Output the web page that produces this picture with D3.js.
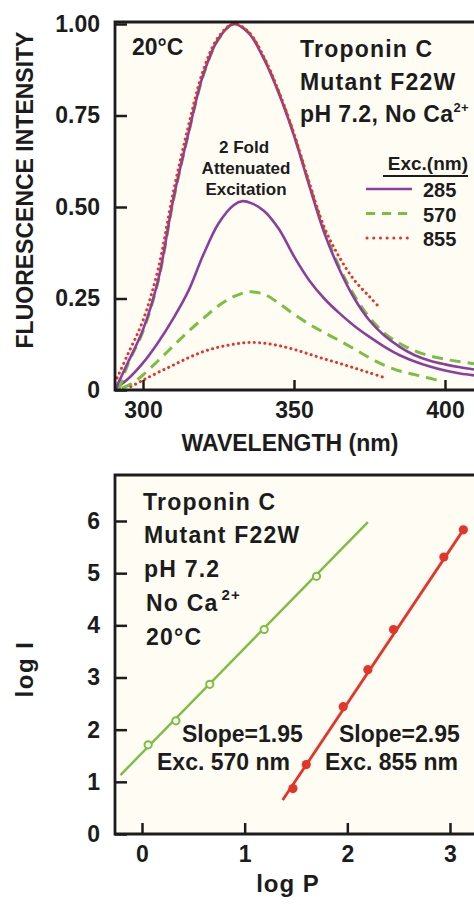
<!DOCTYPE html>
<html>
<head>
<meta charset="utf-8">
<script src="https://cdn.jsdelivr.net/npm/d3@7"></script>
<style>
  html, body { margin: 0; padding: 0; background: #ffffff; }
  svg { display: block; }
  text { font-family: "Liberation Sans", Arial, sans-serif; font-weight: bold; fill: #1c1c1c; }
</style>
</head>
<body>
<svg id="chart" width="474" height="905"></svg>
<script>
// ---------- Top panel data: emission spectra ----------
const wlPurpleNorm = [290.7, 295, 300, 305, 310, 315, 320, 325, 330, 335, 340, 345, 350, 355, 360, 365, 370, 375, 380, 385, 390, 395, 400, 405, 409.6];
const fiPurpleNorm = [0.0, 0.075, 0.165, 0.30, 0.52, 0.70, 0.863, 0.96, 1.0, 0.975, 0.905, 0.81, 0.695, 0.56, 0.43, 0.33, 0.25, 0.19, 0.148, 0.118, 0.095, 0.08, 0.07, 0.062, 0.056];

const wlGreenNorm = [292, 295, 300, 305, 310, 315, 320, 325, 330, 335, 340, 345, 350, 355, 360, 365, 370, 375, 380, 385, 390, 395, 400, 405, 409.6];
const fiGreenNorm = [0.0, 0.07, 0.16, 0.296, 0.515, 0.698, 0.86, 0.958, 1.0, 0.977, 0.908, 0.813, 0.698, 0.565, 0.437, 0.337, 0.258, 0.198, 0.155, 0.127, 0.107, 0.093, 0.084, 0.077, 0.072];

const wlRedNorm = [290.7, 295, 300, 305, 310, 315, 320, 325, 330, 335, 340, 345, 350, 355, 360, 365, 370, 375, 378.5];
const fiRedNorm = [0.02, 0.098, 0.19, 0.33, 0.54, 0.72, 0.875, 0.965, 1.0, 0.978, 0.91, 0.815, 0.70, 0.568, 0.445, 0.363, 0.30, 0.255, 0.224];

const wlPurpleHalf = [290.7, 295, 300, 305, 310, 315, 320, 325, 330, 333, 336, 340, 345, 350, 355, 360, 365, 370, 375, 380, 385, 390, 395, 400, 405, 409.6];
const fiPurpleHalf = [0.003, 0.03, 0.074, 0.13, 0.195, 0.27, 0.37, 0.455, 0.505, 0.516, 0.51, 0.49, 0.44, 0.365, 0.30, 0.25, 0.21, 0.175, 0.145, 0.118, 0.095, 0.078, 0.064, 0.053, 0.045, 0.04];

const wlGreenQuarter = [293, 296, 300, 305, 310, 315, 320, 325, 330, 335, 340, 345, 350, 355, 360, 365, 370, 375, 380, 385, 390, 395, 399.4];
const fiGreenQuarter = [0.005, 0.016, 0.041, 0.08, 0.12, 0.16, 0.196, 0.23, 0.255, 0.268, 0.262, 0.237, 0.207, 0.18, 0.157, 0.135, 0.112, 0.088, 0.067, 0.052, 0.042, 0.032, 0.023];

const wlRedEighth = [296, 300, 305, 310, 315, 320, 325, 330, 335, 340, 345, 350, 355, 360, 365, 370, 375, 380.6];
const fiRedEighth = [0.009, 0.027, 0.048, 0.068, 0.088, 0.105, 0.117, 0.125, 0.13, 0.128, 0.121, 0.111, 0.098, 0.085, 0.073, 0.06, 0.047, 0.032];

const topXTicks = [300, 350, 400];
const topYTicks = [0, 0.25, 0.5, 0.75, 1.0];
const topYTickLabels = ["0", "0.25", "0.50", "0.75", "1.00"];
const legendLabels = ["285", "570", "855"];

// ---------- Bottom panel data: log I vs log P ----------
const greenFitX = [-0.21, 2.20];
const greenFitY = [1.13, 5.98];
const greenPtsX = [0.06, 0.33, 0.66, 1.19, 1.70];
const greenPtsY = [1.71, 2.17, 2.87, 3.92, 4.94];

const redFitX = [1.37, 3.13];
const redFitY = [0.65, 5.83];
const redPtsX = [1.47, 1.60, 1.96, 2.20, 2.45, 2.94, 3.13];
const redPtsY = [0.87, 1.33, 2.44, 3.15, 3.92, 5.31, 5.83];

const botXTicks = [0, 1, 2, 3];
const botYTicks = [0, 1, 2, 3, 4, 5, 6];

// ---------- Styles ----------
const PURPLE = "#8a3f9f";
const GREEN = "#7bbf42";
const RED = "#e5342a";
const INK = "#1c1c1c";
const PLOTBG = "#fffdf3";
const FONT = '"Liberation Sans", Arial, sans-serif';

const svg = d3.select("#chart");
const defs = svg.append("defs");

function zip(a, b) { return a.map((v, i) => [v, b[i]]); }

function styleAxis(g) {
  g.select(".domain").remove();
  g.selectAll("line").attr("stroke", INK).attr("stroke-width", 2.5);
  g.selectAll("text").attr("font-size", 23).attr("fill", INK)
    .style("font-family", FONT).style("font-weight", "bold");
}

// ===================== TOP PANEL =====================
const T = { left: 115, top: 22, right: 480, bottom: 390 };
const xT = d3.scaleLinear().domain([300, 400]).range([143, 445]);
const yT = d3.scaleLinear().domain([0, 1]).range([390, 24]);

defs.append("clipPath").attr("id", "clipTop").append("rect")
  .attr("x", T.left + 1).attr("y", T.top).attr("width", T.right - T.left).attr("height", T.bottom - T.top - 1);

svg.append("rect").attr("x", T.left).attr("y", T.top)
  .attr("width", T.right - T.left).attr("height", T.bottom - T.top).attr("fill", PLOTBG);

const gTop = svg.append("g");
const curves = gTop.append("g").attr("clip-path", "url(#clipTop)");
const lineT = d3.line().x(d => xT(d[0])).y(d => yT(d[1])).curve(d3.curveCatmullRom.alpha(0.5));

function drawCurve(wl, fi, color, style) {
  const p = curves.append("path").datum(zip(wl, fi))
    .attr("d", lineT).attr("fill", "none").attr("stroke", color);
  if (style === "solid") p.attr("stroke-width", 2.6);
  if (style === "dash") p.attr("stroke-width", 3).attr("stroke-dasharray", "11,7");
  if (style === "dot") p.attr("stroke-width", 3).attr("stroke-dasharray", "0.1,5.2").attr("stroke-linecap", "round");
}

drawCurve(wlGreenQuarter, fiGreenQuarter, GREEN, "dash");
drawCurve(wlRedEighth, fiRedEighth, RED, "dot");
drawCurve(wlPurpleHalf, fiPurpleHalf, PURPLE, "solid");
drawCurve(wlGreenNorm, fiGreenNorm, GREEN, "dash");
drawCurve(wlPurpleNorm, fiPurpleNorm, PURPLE, "solid");
drawCurve(wlRedNorm, fiRedNorm, RED, "dot");

// axes
const axYT = d3.axisLeft(yT).tickValues(topYTicks).tickFormat((d, i) => topYTickLabels[i])
  .tickSizeInner(-12).tickSizeOuter(0).tickPadding(15);
const gyT = gTop.append("g").attr("transform", `translate(${T.left},0)`).call(axYT);
const axXT = d3.axisBottom(xT).tickValues(topXTicks).tickFormat(d3.format("d"))
  .tickSizeInner(-10).tickSizeOuter(0).tickPadding(12);
const gxT = gTop.append("g").attr("transform", `translate(0,${T.bottom})`).call(axXT);
styleAxis(gyT); styleAxis(gxT);
gxT.selectAll("text").attr("dy", "0.71em");

// frame
gTop.append("path")
  .attr("d", `M${T.right},${T.top} H${T.left} V${T.bottom} H${T.right}`)
  .attr("fill", "none").attr("stroke", INK).attr("stroke-width", 2.8);

// axis titles
gTop.append("text").attr("transform", `translate(33,190) rotate(-90)`)
  .attr("text-anchor", "middle").attr("font-size", 23).text("FLUORESCENCE INTENSITY");
gTop.append("text").attr("x", 290).attr("y", 451).attr("text-anchor", "middle")
  .attr("font-size", 23).text("WAVELENGTH (nm)");

// annotations
gTop.append("text").attr("x", 132).attr("y", 55).attr("font-size", 23).text("20°C");
const infoTop = gTop.append("g").attr("font-size", 23).attr("letter-spacing", 1.2);
infoTop.append("text").attr("x", 300).attr("y", 57).text("Troponin C");
infoTop.append("text").attr("x", 300).attr("y", 90).text("Mutant F22W");
const ph = infoTop.append("text").attr("x", 300).attr("y", 122).attr("letter-spacing", 0.4);
ph.append("tspan").text("pH 7.2, No Ca");
ph.append("tspan").attr("font-size", 13).attr("dy", -10).text("2+");

const att = gTop.append("g").attr("font-size", 17).attr("text-anchor", "middle");
att.append("text").attr("x", 244).attr("y", 153).text("2 Fold");
att.append("text").attr("x", 246).attr("y", 174).text("Attenuated");
att.append("text").attr("x", 246).attr("y", 195).text("Excitation");

// legend
const leg = gTop.append("g");
leg.append("text").attr("x", 468).attr("y", 170).attr("text-anchor", "end").attr("font-size", 19).text("Exc.(nm)");
leg.append("line").attr("x1", 383).attr("x2", 468).attr("y1", 176).attr("y2", 176).attr("stroke", INK).attr("stroke-width", 2);
const legStyles = [[PURPLE, "solid"], [GREEN, "dash"], [RED, "dot"]];
legendLabels.forEach((lab, i) => {
  const y = 189 + i * 24.5;
  const l = leg.append("line").attr("x1", 366).attr("x2", 412).attr("y1", y).attr("y2", y).attr("stroke", legStyles[i][0]);
  if (legStyles[i][1] === "solid") l.attr("stroke-width", 2.6);
  if (legStyles[i][1] === "dash") l.attr("stroke-width", 3).attr("stroke-dasharray", "9,7");
  if (legStyles[i][1] === "dot") l.attr("stroke-width", 3).attr("stroke-dasharray", "0.1,6.6").attr("stroke-linecap", "round").attr("x1", 367);
  leg.append("text").attr("x", 423).attr("y", y + 8).attr("font-size", 20).text(lab);
});

// ===================== BOTTOM PANEL =====================
const B = { left: 115, top: 475, right: 480, bottom: 834 };
const xB = d3.scaleLinear().domain([0, 3]).range([142, 450]);
const yB = d3.scaleLinear().domain([0, 6]).range([834, 521]);

svg.append("rect").attr("x", B.left).attr("y", B.top)
  .attr("width", B.right - B.left).attr("height", B.bottom - B.top).attr("fill", PLOTBG);
const gBot = svg.append("g");

const axYB = d3.axisLeft(yB).tickValues(botYTicks).tickFormat(d3.format("d"))
  .tickSizeInner(-12).tickSizeOuter(0).tickPadding(15);
const gyB = gBot.append("g").attr("transform", `translate(${B.left},0)`).call(axYB);
const axXB = d3.axisBottom(xB).tickValues(botXTicks).tickFormat(d3.format("d"))
  .tickSizeInner(-11).tickSizeOuter(0).tickPadding(12);
const gxB = gBot.append("g").attr("transform", `translate(0,${B.bottom})`).call(axXB);
styleAxis(gyB); styleAxis(gxB);
gxB.selectAll("text").attr("dy", "0.71em");

gBot.append("path")
  .attr("d", `M${B.right},${B.top} H${B.left} V${B.bottom} H${B.right}`)
  .attr("fill", "none").attr("stroke", INK).attr("stroke-width", 2.8);

const lineB = d3.line().x(d => xB(d[0])).y(d => yB(d[1]));
gBot.append("path").datum(zip(greenFitX, greenFitY)).attr("d", lineB)
  .attr("fill", "none").attr("stroke", GREEN).attr("stroke-width", 2.4);
gBot.append("path").datum(zip(redFitX, redFitY)).attr("d", lineB)
  .attr("fill", "none").attr("stroke", RED).attr("stroke-width", 2.8);

gBot.selectAll("circle.g").data(zip(greenPtsX, greenPtsY)).enter().append("circle")
  .attr("cx", d => xB(d[0])).attr("cy", d => yB(d[1])).attr("r", 3.6)
  .attr("fill", PLOTBG).attr("stroke", GREEN).attr("stroke-width", 2);
gBot.selectAll("circle.r").data(zip(redPtsX, redPtsY)).enter().append("circle")
  .attr("cx", d => xB(d[0])).attr("cy", d => yB(d[1])).attr("r", 4.6)
  .attr("fill", RED);

// axis titles
gBot.append("text").attr("transform", `translate(33,669) rotate(-90)`)
  .attr("text-anchor", "middle").attr("font-size", 24).attr("letter-spacing", 1.5).text("log I");
gBot.append("text").attr("x", 288).attr("y", 892).attr("text-anchor", "middle")
  .attr("font-size", 24).attr("letter-spacing", 1).text("log P");

// annotations
const infoB = gBot.append("g").attr("font-size", 23).attr("letter-spacing", 1.2);
infoB.append("text").attr("x", 143).attr("y", 510).text("Troponin C");
infoB.append("text").attr("x", 144).attr("y", 543).text("Mutant F22W");
infoB.append("text").attr("x", 144).attr("y", 577).text("pH 7.2");
const noca = infoB.append("text").attr("x", 146).attr("y", 611);
noca.append("tspan").text("No Ca");
noca.append("tspan").attr("font-size", 15).attr("dy", -11).attr("dx", 3).text("2+");
infoB.append("text").attr("x", 146).attr("y", 645).text("20°C");

const sl = gBot.append("g").attr("font-size", 23);
sl.append("text").attr("x", 182).attr("y", 742).text("Slope=1.95");
sl.append("text").attr("x", 157).attr("y", 770).text("Exc. 570 nm");
sl.append("text").attr("x", 339).attr("y", 742).text("Slope=2.95");
sl.append("text").attr("x", 325).attr("y", 770).text("Exc. 855 nm");
</script>
</body>
</html>
